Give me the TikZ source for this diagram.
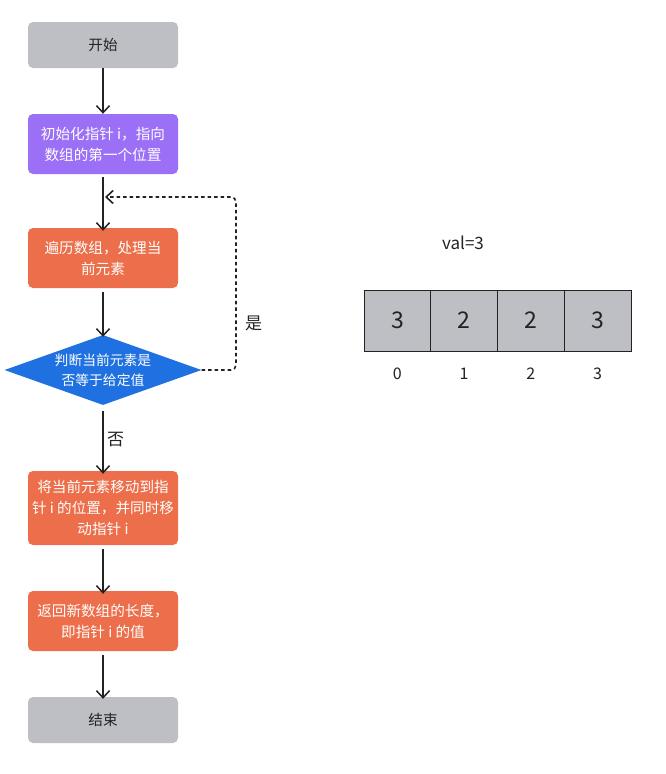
\documentclass[tikz,border=0pt]{standalone}
\usepackage{fontspec}
\setmainfont{Noto Sans CJK SC}
\usetikzlibrary{arrows.meta,shapes.geometric}
\definecolor{boxgray}{HTML}{BDBFC4}
\definecolor{boxpurple}{HTML}{9B70F7}
\definecolor{boxorange}{HTML}{EC6E4A}
\definecolor{boxblue}{HTML}{1F70E0}
\definecolor{linedark}{HTML}{222222}
\begin{document}
\begin{tikzpicture}[x=1pt,y=-1pt,
    flowbox/.style={rectangle,rounded corners=5pt,minimum width=150pt,align=center,
        inner sep=0pt,font=\fontsize{14.6}{21}\selectfont},
    termbox/.style={flowbox,fill=boxgray,minimum height=46pt,text=linedark},
    initbox/.style={flowbox,fill=boxpurple,minimum height=60pt,text=white},
    workbox/.style={flowbox,fill=boxorange,text=white},
    testbox/.style={diamond,fill=boxblue,text=white,aspect=2.8,inner sep=0pt,
        minimum width=197pt,minimum height=70pt,align=center,
        font=\fontsize{13.8}{20}\selectfont},
    flow/.style={-{Straight Barb[length=7pt,width=13pt]},line width=1.5pt,draw=linedark},
    cell/.style={rectangle,draw=linedark,line width=1pt,fill=boxgray,minimum width=66.75pt,
        minimum height=61pt,inner sep=0pt,font=\fontsize{23}{26}\selectfont,text=linedark},
    idx/.style={font=\fontsize{16}{18}\selectfont,text=linedark},
    yesno/.style={text=linedark,font=\fontsize{17}{19}\selectfont}]
    \useasboundingbox (0,0) rectangle (666,774);
    \node[termbox] (start) at (103,45) {开始};
    \node[initbox] (init) at (103,144) {初始化指针 i，指向\\数组的第一个位置};
    \node[workbox,minimum height=60pt] (scan) at (103,258) {遍历数组，处理当\\前元素};
    \node[testbox] (test) at (103,370) {判断当前元素是\\否等于给定值};
    \node[workbox,minimum height=74pt] (move) at (103,508) {将当前元素移动到指\\针 i 的位置，并同时移\\动指针 i};
    \node[workbox,minimum height=60pt] (ret) at (103,621) {返回新数组的长度，\\即指针 i 的值};
    \node[termbox] (stop) at (103,720) {结束};
    \coordinate (loop) at (103,197);
    \draw[flow] (start) -- (init);
    \draw[flow] (init.south) ++(0,3) -- ([yshift=-3pt]scan.north);
    \draw[flow] ([yshift=-4pt]scan.south) -- ([yshift=-2pt]test.north);
    \draw[flow] ([yshift=-6pt]test.south) -- node[right,yesno,pos=0.45] {否} ([yshift=-3pt]move.north);
    \draw[flow,dash pattern=on 3.5pt off 3pt,line width=1.6pt,rounded corners=5pt]
        (test.east) -- (236,370) -- node[right,pos=0.27,xshift=5pt,yesno] {是} (236,197) -- ([xshift=2pt]loop);
    \draw[flow] ([yshift=-4pt]move.south) -- ([yshift=-3pt]ret.north);
    \draw[flow] ([yshift=-4pt]ret.south) -- ([yshift=-2pt]stop.north);
    \node[text=linedark,font=\fontsize{17}{19}\selectfont] (val) at (463,243) {val=3};
    \foreach \v [count=\k from 0] in {3,2,2,3} {
        \node[cell] (c\k) at (397.4+66.75*\k,320.5) {\v};
        \node[idx] (i\k) at (397.4+66.75*\k,374) {\k};
    }
\end{tikzpicture}
\end{document}
